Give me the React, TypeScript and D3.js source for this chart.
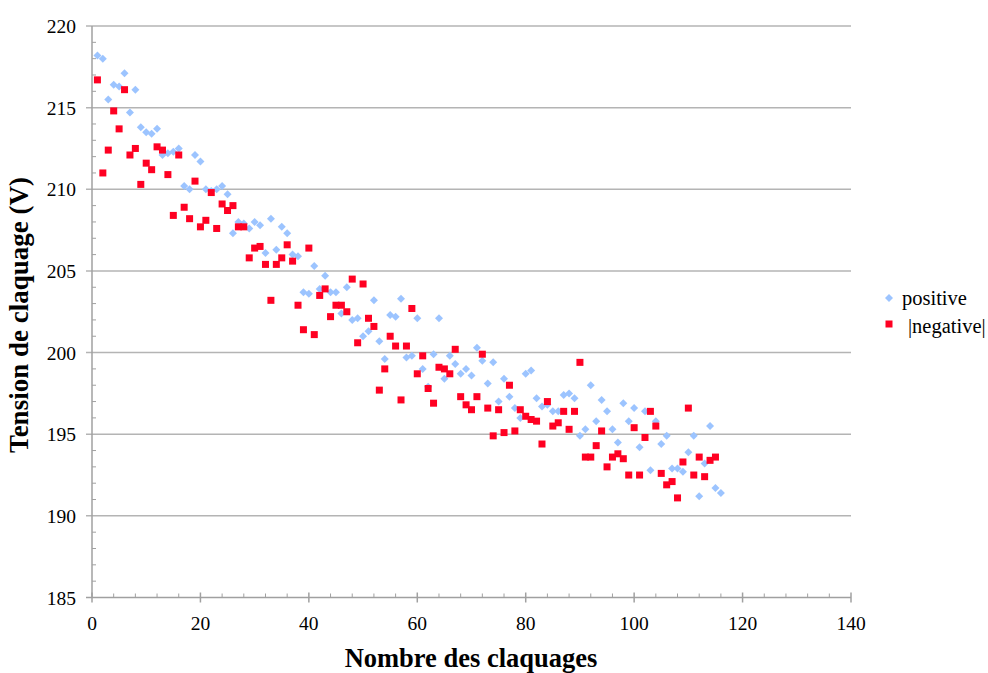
import React from "react";
import * as d3 from "d3";

const positive: number[] = [
  218.2, 218.0, 215.5, 216.4, 216.3, 217.1, 214.7, 216.1, 213.8, 213.5,
  213.4, 213.7, 212.1, 212.2, 212.3, 212.5, 210.2, 210.0, 212.1, 211.7,
  210.0, 209.9, 210.0, 210.2, 209.7, 207.3, 208.0, 207.9, 207.6, 208.0,
  207.8, 206.1, 208.2, 206.3, 207.7, 207.3, 206.0, 205.9, 203.7, 203.6,
  205.3, 203.9, 204.7, 203.7, 203.7, 202.4, 204.0, 202.0, 202.1, 201.0,
  201.3, 203.2, 200.7, 199.6, 202.3, 202.2, 203.3, 199.7, 199.8, 202.1,
  199.0, 197.9, 199.9, 202.1, 198.4, 199.8, 199.3, 198.7, 199.0, 198.6,
  200.3, 199.5, 198.1, 199.4, 197.0, 198.4, 197.3, 196.6, 196.0, 198.7,
  198.9, 197.2, 196.7, 196.8, 196.4, 196.4, 197.4, 197.5, 197.2, 194.9,
  195.3, 198.0, 195.8, 197.1, 196.4, 195.3, 194.5, 196.9, 195.8, 196.6,
  194.2, 196.4, 192.8, 195.8, 194.4, 194.9, 192.9, 192.9, 192.7, 193.9,
  194.9, 191.2, 193.2, 195.5, 191.7, 191.4,
];

const negative: number[] = [
  216.7, 211.0, 212.4, 214.8, 213.7, 216.1, 212.1, 212.5, 210.3, 211.6,
  211.2, 212.6, 212.4, 210.9, 208.4, 212.1, 208.9, 208.2, 210.5, 207.7,
  208.1, 209.8, 207.6, 209.1, 208.7, 209.0, 207.7, 207.7, 205.8, 206.4,
  206.5, 205.4, 203.2, 205.4, 205.8, 206.6, 205.6, 202.9, 201.4, 206.4,
  201.1, 203.5, 203.9, 202.2, 202.9, 202.9, 202.5, 204.5, 200.6, 204.2,
  202.1, 201.6, 197.7, 199.0, 201.0, 200.4, 197.1, 200.4, 202.7, 198.7,
  199.8, 197.8, 196.9, 199.1, 199.0, 198.7, 200.2, 197.3, 196.8, 196.5,
  197.3, 199.9, 196.6, 194.9, 196.5, 195.1, 198.0, 195.2, 196.5, 196.1,
  195.9, 195.8, 194.4, 197.0, 195.5, 195.7, 196.4, 195.3, 196.4, 199.4,
  193.6, 193.6, 194.3, 195.2, 193.0, 193.6, 193.8, 193.5, 192.5, 195.4,
  192.5, 194.8, 196.4, 195.5, 192.6, 191.9, 192.1, 191.1, 193.3, 196.6,
  192.5, 193.6, 192.4, 193.4, 193.6,
];

const xTicks: number[] = [0, 20, 40, 60, 80, 100, 120, 140];
const yTicks: number[] = [185, 190, 195, 200, 205, 210, 215, 220];
const seriesNames: string[] = ["positive", "|negative|"];

const W = 988;
const H = 673;
const FONT = '"Liberation Serif", "DejaVu Serif", serif';
const BLUE = "#9cc4ff";
const RED = "#ff0022";

export default function App() {
  const x = d3.scaleLinear().domain([0, 140]).range([92, 851]);
  const y = d3.scaleLinear().domain([185, 220]).range([597.5, 26]);
  const minorY = d3.range(185, 221, 1).filter((v) => v % 5 !== 0);
  const minorX = d3.range(0, 141, 4).filter((v) => v % 20 !== 0);
  const x0 = x(0);
  const yb = y(185);
  const diamond = d3.symbol().type(d3.symbolSquare).size(32)()!;
  const ts = { fontFamily: FONT };

  return (
    <svg
      width={W}
      height={H}
      style={{ position: "absolute", left: 0, top: 0, background: "#fff", fontFamily: FONT }}
    >
      {yTicks.filter((t) => t !== 185).map((t) => (
        <line key={"g" + t} x1={x0 - 6} x2={x(140)} y1={y(t)} y2={y(t)} stroke="#b4b4b4" strokeWidth={1.5} />
      ))}
      <line x1={x0} x2={x0} y1={y(220)} y2={yb} stroke="#a0a0a0" strokeWidth={1.5} />
      <line x1={x0 - 6} x2={x(140)} y1={yb} y2={yb} stroke="#a0a0a0" strokeWidth={1.5} />
      {minorY.map((t) => (
        <line key={"my" + t} x1={x0} x2={x0 + 4} y1={y(t)} y2={y(t)} stroke="#a0a0a0" strokeWidth={1} />
      ))}
      {minorX.map((t) => (
        <line key={"mx" + t} x1={x(t)} x2={x(t)} y1={yb} y2={yb - 4} stroke="#a0a0a0" strokeWidth={1} />
      ))}
      {xTicks.map((t) => (
        <line key={"tx" + t} x1={x(t)} x2={x(t)} y1={yb - 5} y2={yb + 5} stroke="#a0a0a0" strokeWidth={1.5} />
      ))}
      {yTicks.map((t) => (
        <text key={"ly" + t} x={76} y={y(t) + 7} textAnchor="end" fontSize={19.5} fill="#000" style={ts}>
          {t}
        </text>
      ))}
      {xTicks.map((t) => (
        <text key={"lx" + t} x={x(t)} y={630} textAnchor="middle" fontSize={19.5} fill="#000" style={ts}>
          {t}
        </text>
      ))}
      {positive.map((v, i) => (
        <path key={"p" + i} d={diamond} transform={`translate(${x(i + 1)},${y(v)}) rotate(45)`} fill={BLUE} />
      ))}
      {negative.map((v, i) => (
        <rect key={"n" + i} x={x(i + 1) - 3.5} y={y(v) - 3.5} width={7} height={7} fill={RED} />
      ))}
      <text x={471} y={667} textAnchor="middle" fontSize={26.5} fontWeight="bold" fill="#000" style={ts}>
        Nombre des claquages
      </text>
      <text
        transform={`translate(28,315) rotate(-90)`}
        textAnchor="middle"
        fontSize={27}
        fontWeight="bold"
        fill="#000"
        style={ts}
      >
        Tension de claquage (V)
      </text>
      <path d={diamond} transform="translate(889,298) rotate(45)" fill={BLUE} />
      <text x={902} y={305} fontSize={20.5} fill="#000" style={ts}>{seriesNames[0]}</text>
      <rect x={885.5} y={320.5} width={7} height={7} fill={RED} />
      <text x={908} y={333} fontSize={20.5} fill="#000" style={ts}>{seriesNames[1]}</text>
    </svg>
  );
}
